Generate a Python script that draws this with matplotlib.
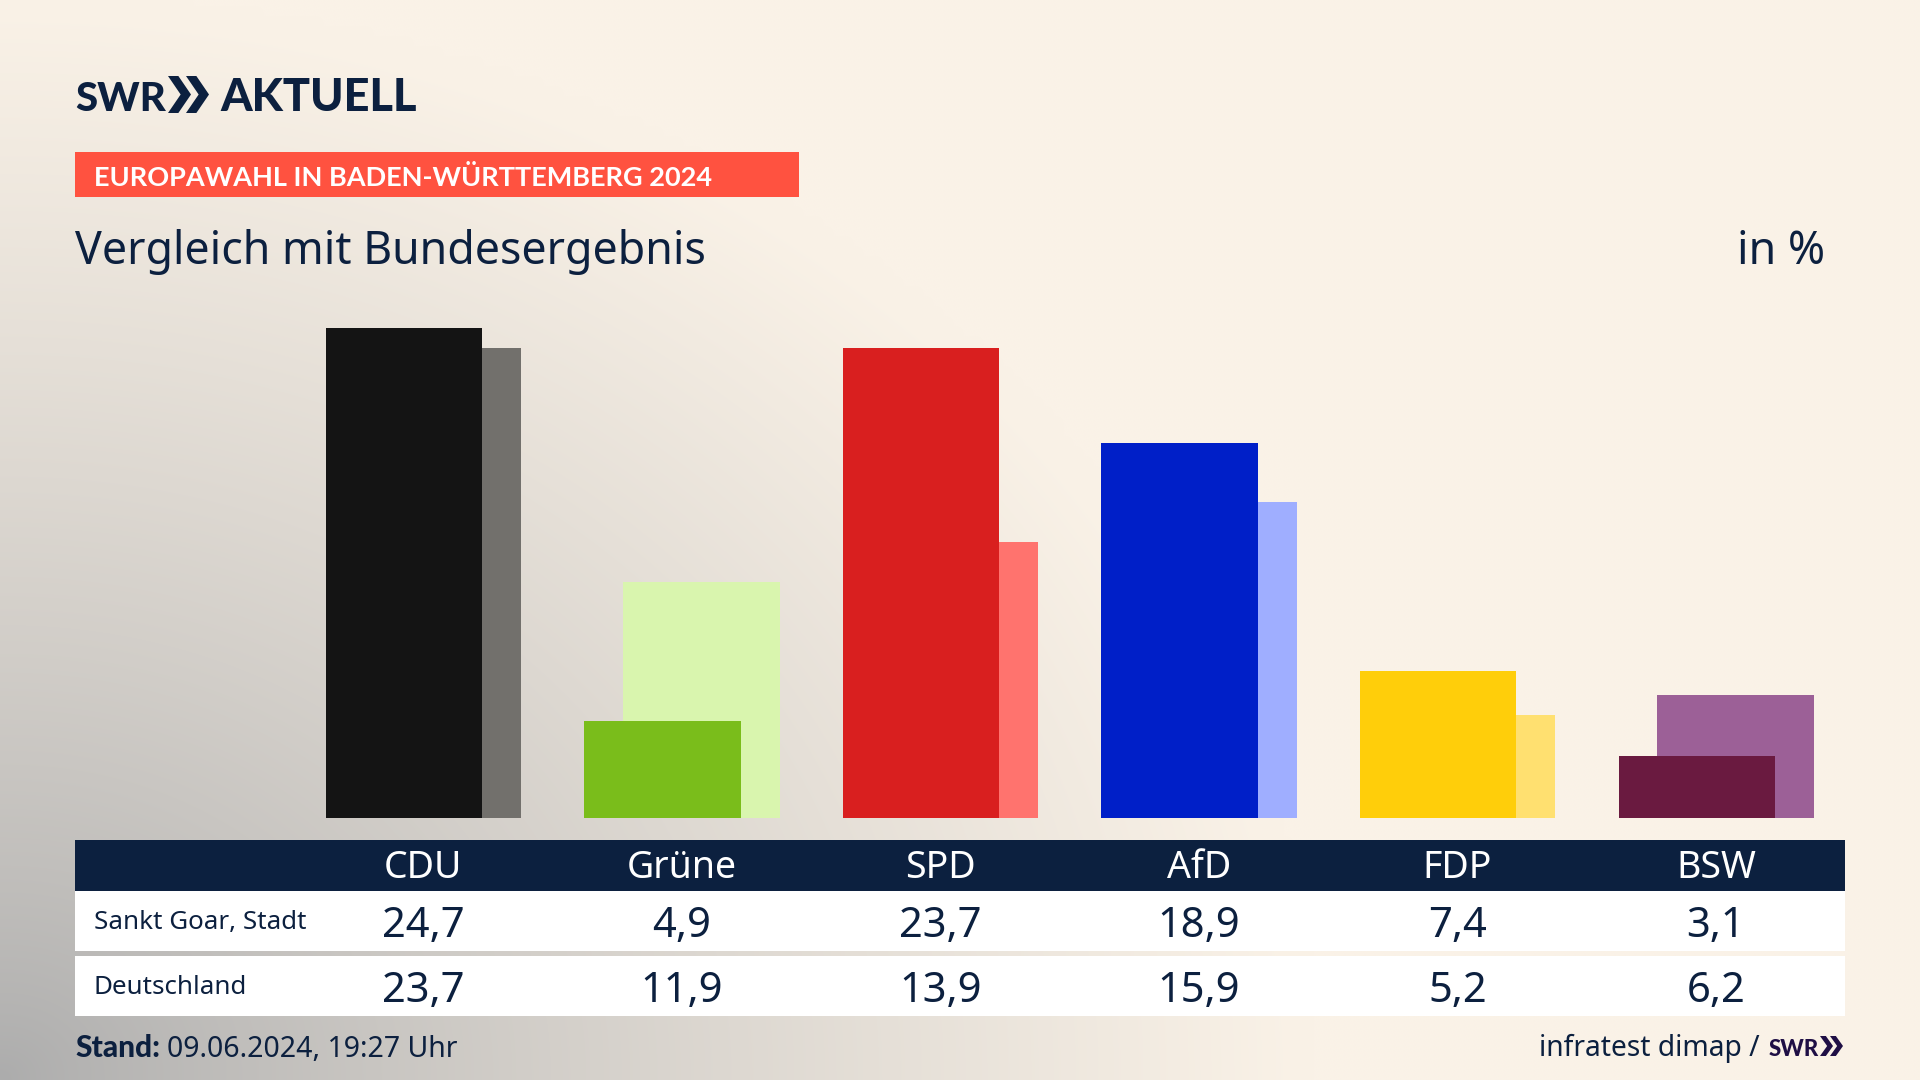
import numpy as np
import matplotlib
matplotlib.use("Agg")
import matplotlib.pyplot as plt
from matplotlib.patches import Rectangle, Polygon

# data
parties = ["CDU", "Grüne", "SPD", "AfD", "FDP", "BSW"]
local_values = [24.7, 4.9, 23.7, 18.9, 7.4, 3.1]
national_values = [23.7, 11.9, 13.9, 15.9, 5.2, 6.2]
local_colors = ["#141414", "#7ABD1B", "#D91F1F", "#001FC8", "#FFCE0A", "#6A1A40"]
national_colors = ["#72706C", "#D9F5AE", "#FF736E", "#9FAEFF", "#FFE070", "#9C6097"]
row_labels = ["Sankt Goar, Stadt", "Deutschland"]

NAVY = "#0C203F"
FONT = "Noto Sans"
BOLD = "Lato"
W, H = 1920, 1080
plt.rcParams["font.family"] = [FONT, "DejaVu Sans"]

fig = plt.figure(figsize=(W / 100, H / 100), dpi=100)

# background, grey glow out of the lower left corner
bg = fig.add_axes([0, 0, 1, 1], zorder=0)
yy, xx = np.mgrid[0:1:108j, 0:1:192j]
dist = np.clip(np.sqrt((xx / 0.68) ** 2 + (yy / 1.0) ** 2), 0, 1)
cream = np.array([250, 242, 231]) / 255
grey = np.array([172, 172, 172]) / 255
t = dist ** 0.8
bg.imshow((grey[None, None, :] * (1 - t[..., None]) + cream[None, None, :] * t[..., None]),
          origin="lower", extent=[0, 1, 0, 1], aspect="auto", interpolation="bicubic")
bg.axis("off")

# pixel overlay for header, table and footer
px = fig.add_axes([0, 0, 1, 1], zorder=2)
px.set_xlim(0, W)
px.set_ylim(H, 0)
px.axis("off")
px.patch.set_alpha(0)

# bars
ax = fig.add_axes([75 / W, (H - 818) / H, 1770 / W, 518 / H], zorder=1)
ax.patch.set_alpha(0)
ax.set_xlim(-1.346, 5.499)
ax.set_ylim(0, 26.1)
ax.axis("off")
x = np.arange(len(parties))
ax.bar(x + 0.0754, national_values, width=0.608, color=national_colors, zorder=1)
ax.bar(x - 0.0739, local_values, width=0.605, color=local_colors, zorder=2)


def chevrons(x0, y0, h, w, gap, color):
    for k in range(2):
        left = x0 + k * gap
        px.add_patch(Polygon([(left, y0), (left + w * 0.45, y0), (left + w, y0 + h / 2),
                              (left + w * 0.45, y0 + h), (left, y0 + h),
                              (left + w * 0.55, y0 + h / 2)], color=color, lw=0))


# logo
px.text(75, 111, "SWR", family=BOLD, fontsize=29, fontweight="black", color=NAVY, va="baseline", ha="left")
chevrons(168, 76, 37, 23, 18, NAVY)
px.text(220, 111, "AKTUELL", family=BOLD, fontsize=32.5, fontweight="black", color=NAVY, va="baseline", ha="left")

# header
px.add_patch(Rectangle((75, 152), 724, 45, color="#FF5240", lw=0))
px.text(94, 175, "EUROPAWAHL IN BADEN-WÜRTTEMBERG 2024", family=BOLD, fontsize=19.5, fontweight="bold",
        color="white", va="center_baseline", ha="left")
px.text(75, 264, "Vergleich mit Bundesergebnis", fontsize=32.2, color=NAVY, va="baseline", ha="left")
px.text(1825, 264, "in %", fontsize=32.2, color=NAVY, va="baseline", ha="right")

# table
px.add_patch(Rectangle((75, 840), 1770, 51, color=NAVY, lw=0))
px.add_patch(Rectangle((75, 891), 1770, 60, color="white", lw=0))
px.add_patch(Rectangle((75, 956), 1770, 60, color="white", lw=0))
px.text(94, 920, row_labels[0], fontsize=18.7, color=NAVY, va="center_baseline", ha="left")
px.text(94, 985, row_labels[1], fontsize=18.7, color=NAVY, va="center_baseline", ha="left")
for i, name in enumerate(parties):
    cx = 423 + i * 258.6
    px.text(cx, 864, name, fontsize=27, color="white", va="center_baseline", ha="center")
    px.text(cx, 921, f"{local_values[i]:.1f}".replace(".", ","), fontsize=30, color=NAVY,
            va="center_baseline", ha="center")
    px.text(cx, 986, f"{national_values[i]:.1f}".replace(".", ","), fontsize=30, color=NAVY,
            va="center_baseline", ha="center")

# footer
px.text(75, 1057, "Stand:", family=BOLD, fontsize=21.5, fontweight="black", color=NAVY, va="baseline", ha="left")
px.text(167, 1057, "09.06.2024, 19:27 Uhr", fontsize=20.5, color=NAVY, va="baseline", ha="left")
px.text(1760, 1056, "infratest dimap /", fontsize=20.3, color=NAVY, va="baseline", ha="right")
px.text(1769, 1056, "SWR", family=BOLD, fontsize=16, fontweight="black", color="#1F0F45", va="baseline", ha="left")
chevrons(1820, 1036, 20, 13, 10, "#1F0F45")

fig.savefig("out.png", dpi=100)
